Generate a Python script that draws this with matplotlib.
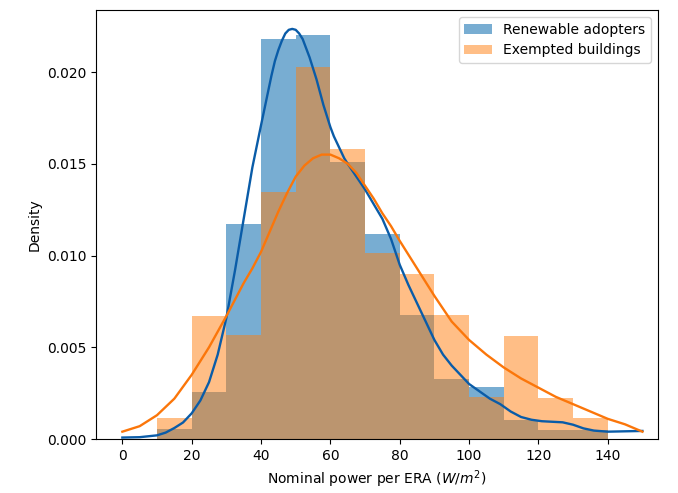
import numpy as np
import matplotlib
matplotlib.use("Agg")
import matplotlib.pyplot as plt

# histogram bins (W/m2) and densities per bin
bin_edges = np.arange(10, 150, 10)
renewable_density = [0.00053, 0.00254, 0.01171, 0.02179, 0.02204, 0.01510, 0.01115,
                     0.00674, 0.00325, 0.00282, 0.00104, 0.00049, 0.00049]
exempted_density = [0.00116, 0.00672, 0.00565, 0.01347, 0.02026, 0.01578, 0.01015,
                    0.00899, 0.00674, 0.00227, 0.00563, 0.00223, 0.00114]

# kernel density estimates
renewable_kde_x = [0, 5, 10, 12.5, 15, 17.5, 20, 22.5, 25, 27.5, 30, 32.5, 35, 37.5,
                   40, 41, 42, 43, 44, 45, 46, 47, 48, 49, 50, 51, 52, 53, 54, 55,
                   56, 57, 58, 59, 60, 61, 62, 63, 64, 65, 67.5, 70, 72.5, 75, 77.5,
                   80, 82.5, 85, 87.5, 90, 92.5, 95, 97.5, 100, 103, 106, 109, 112,
                   115, 118, 121, 124, 127, 130, 133, 136, 140, 145, 150]
renewable_kde_y = [0.00008, 0.0001, 0.0002, 0.00035, 0.0006, 0.0009, 0.0014, 0.0021,
                   0.0031, 0.0046, 0.0066, 0.0092, 0.0120, 0.0148, 0.0171, 0.0180,
                   0.0189, 0.0198, 0.0206, 0.0212, 0.0217, 0.0221, 0.0223, 0.02235,
                   0.0223, 0.0221, 0.0218, 0.0213, 0.0208, 0.0202, 0.0196, 0.0189,
                   0.0182, 0.0176, 0.0170, 0.0165, 0.0161, 0.0157, 0.0153, 0.0150,
                   0.0143, 0.0136, 0.0128, 0.0120, 0.0109, 0.0095, 0.0084, 0.0074,
                   0.0064, 0.0054, 0.0046, 0.0040, 0.0035, 0.0030, 0.0026, 0.0022,
                   0.0019, 0.0015, 0.0012, 0.00105, 0.00097, 0.00094, 0.00091,
                   0.00078, 0.00058, 0.00046, 0.0004, 0.00042, 0.00044]

exempted_kde_x = [0, 5, 10, 15, 20, 25, 30, 32.5, 35, 37.5, 40, 42.5, 45, 47.5, 50,
                  52.5, 55, 57.5, 60, 62.5, 65, 67.5, 70, 72.5, 75, 77.5, 80, 85, 90,
                  95, 100, 105, 110, 115, 120, 125, 130, 135, 140, 145, 150]
exempted_kde_y = [0.0004, 0.0007, 0.0013, 0.0022, 0.0035, 0.0050, 0.0067, 0.0076,
                  0.0085, 0.0093, 0.0102, 0.0113, 0.0124, 0.0134, 0.0143, 0.0149,
                  0.0153, 0.0155, 0.0155, 0.0153, 0.0150, 0.0145, 0.0138, 0.0131,
                  0.0123, 0.0116, 0.0108, 0.0093, 0.0078, 0.0064, 0.0054, 0.0046,
                  0.0039, 0.0033, 0.0028, 0.0023, 0.0019, 0.0015, 0.0011, 0.0008,
                  0.0004]

fig = plt.figure(figsize=(6.78, 4.93), dpi=100)
ax = fig.add_axes([0.1416, 0.1095, 0.8289, 0.8702])

ax.bar(bin_edges[:-1], renewable_density, width=10, align="edge",
       color="#1f77b4", alpha=0.6, label="Renewable adopters")
ax.bar(bin_edges[:-1], exempted_density, width=10, align="edge",
       color="#ff7f0e", alpha=0.5, label="Exempted buildings")

ax.plot(renewable_kde_x, renewable_kde_y, color="#0a5ca8", lw=1.7)
ax.plot(exempted_kde_x, exempted_kde_y, color="#fb760a", lw=1.7)

ax.set_xlim(-7.6, 154.5)
ax.set_ylim(0, 0.02338)
ax.set_xticks(np.arange(0, 141, 20))
ax.set_yticks(np.arange(0, 0.0201, 0.005))
ax.yaxis.set_major_formatter(matplotlib.ticker.FormatStrFormatter("%.3f"))

ax.set_xlabel("Nominal power per ERA ($W/m^2$)")
ax.set_ylabel("Density")
ax.legend(loc="upper right")

fig.savefig("out.png", dpi=100)
